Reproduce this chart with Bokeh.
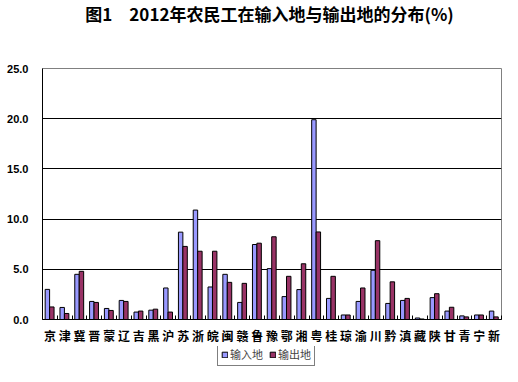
from bokeh.plotting import figure
from bokeh.layouts import column
from bokeh.models import (FixedTicker, Legend, LegendItem, NumeralTickFormatter, ColumnDataSource,
                          Range1d, Label)
from bokeh.transform import dodge
from bokeh.embed import file_html
from bokeh.resources import INLINE
import numpy as np

provinces = ["京", "津", "冀", "晋", "蒙", "辽", "吉", "黑", "沪", "苏", "浙", "皖", "闽", "赣", "鲁", "豫",
             "鄂", "湘", "粤", "桂", "琼", "渝", "川", "黔", "滇", "藏", "陕", "甘", "青", "宁", "新"]
inflow = [3.0, 1.2, 4.5, 1.8, 1.1, 1.9, 0.74, 0.93, 3.14, 8.7, 10.9, 3.24, 4.5, 1.7, 7.47, 5.07,
          2.28, 2.98, 19.9, 2.1, 0.45, 1.8, 4.9, 1.6, 1.9, 0.15, 2.18, 0.84, 0.36, 0.45, 0.84]
outflow = [1.25, 0.6, 4.8, 1.7, 0.9, 1.8, 0.84, 1.03, 0.74, 7.28, 6.8, 6.8, 3.7, 3.6, 7.6, 8.24,
           4.3, 5.55, 8.72, 4.3, 0.45, 3.14, 7.85, 3.75, 2.1, 0.05, 2.57, 1.22, 0.26, 0.45, 0.26]
y_ticks = [0, 5, 10, 15, 20, 25]
series_names = ["输入地", "输出地"]
title_text = "图1\u30002012年农民工在输入地与输出地的分布(%)"
blue, wine = "#9999FF", "#993366"

n = len(provinces)
centers = np.arange(n) + 0.5
src = ColumnDataSource(dict(x=centers, inflow=inflow, outflow=outflow))

FW, ML, MR = 459, 42, 1

def strip(h):
    f = figure(frame_width=FW, frame_height=h, output_backend="svg", toolbar_location=None,
               x_range=Range1d(0, 1), y_range=Range1d(0, 1),
               min_border_left=ML, min_border_right=MR, min_border_top=0, min_border_bottom=0,
               x_axis_location=None, y_axis_location=None)
    f.grid.grid_line_color = None
    f.outline_line_color = None
    return f

# title strip
p0 = strip(26)
p0.add_layout(Label(x=227, y=13, x_units="screen", y_units="screen", text=title_text,
                    text_align="center", text_baseline="middle", text_font="Noto Sans CJK SC",
                    text_font_size="17px", text_font_style="bold", text_color="black"))

# main chart
p = figure(frame_width=FW, frame_height=251, output_backend="svg", toolbar_location=None,
           x_range=Range1d(0, n), y_range=Range1d(0, 25),
           min_border_left=ML, min_border_right=MR, min_border_top=42, min_border_bottom=22)

r1 = p.vbar(x=dodge("x", -0.17), top="inflow", width=0.3, source=src, fill_color=blue,
            line_color="black", line_width=1)
r2 = p.vbar(x=dodge("x", 0.13), top="outflow", width=0.3, source=src, fill_color=wine,
            line_color="black", line_width=1)

p.xaxis.ticker = FixedTicker(ticks=list(centers), minor_ticks=list(range(n + 1)))
p.xaxis.major_label_overrides = {float(c): name for c, name in zip(centers, provinces)}
p.xaxis.major_tick_in = 0
p.xaxis.major_tick_out = 0
p.xaxis.minor_tick_in = 4
p.xaxis.minor_tick_out = 0
p.xaxis.minor_tick_line_color = "black"
p.xaxis.axis_line_color = "black"
p.xaxis.major_label_text_font = "Noto Sans CJK SC"
p.xaxis.major_label_text_font_style = "bold"
p.xaxis.major_label_text_font_size = "12px"
p.xaxis.major_label_text_color = "black"
p.xaxis.major_label_standoff = 7

p.yaxis.ticker = FixedTicker(ticks=y_ticks)
p.yaxis.formatter = NumeralTickFormatter(format="0.0")
p.yaxis.major_tick_in = 0
p.yaxis.major_tick_out = 0
p.yaxis.minor_tick_line_color = None
p.yaxis.axis_line_color = "black"
p.yaxis.major_label_text_font = "Liberation Sans"
p.yaxis.major_label_text_font_style = "bold"
p.yaxis.major_label_text_font_size = "11px"
p.yaxis.major_label_text_color = "black"
p.yaxis.major_label_standoff = 14

p.xgrid.grid_line_color = None
p.ygrid.ticker = FixedTicker(ticks=[5, 10, 15, 20])
p.ygrid.grid_line_color = "black"
p.ygrid.grid_line_width = 1
p.outline_line_color = "#808080"
p.background_fill_color = "white"
p.border_fill_color = "white"

# legend strip below the chart
p2 = strip(22)
l1 = p2.vbar(x="x", top="inflow", width=0.3, source=src, fill_color=blue, line_color="black",
             visible=False)
l2 = p2.vbar(x="x", top="outflow", width=0.3, source=src, fill_color=wine, line_color="black",
             visible=False)
legend = Legend(items=[LegendItem(label=series_names[0], renderers=[l1]),
                       LegendItem(label=series_names[1], renderers=[l2])],
                orientation="horizontal", location=(175, 2),
                label_text_font="Noto Sans CJK SC", label_text_font_size="11px",
                glyph_width=7, glyph_height=7, label_standoff=2, spacing=6,
                padding=3, margin=0, border_line_color="black", label_height=12,
                inactive_fill_alpha=0.0)
p2.add_layout(legend)

layout = column(p0, p, p2, spacing=0)
open("out.html", "w").write(file_html(layout, INLINE))
